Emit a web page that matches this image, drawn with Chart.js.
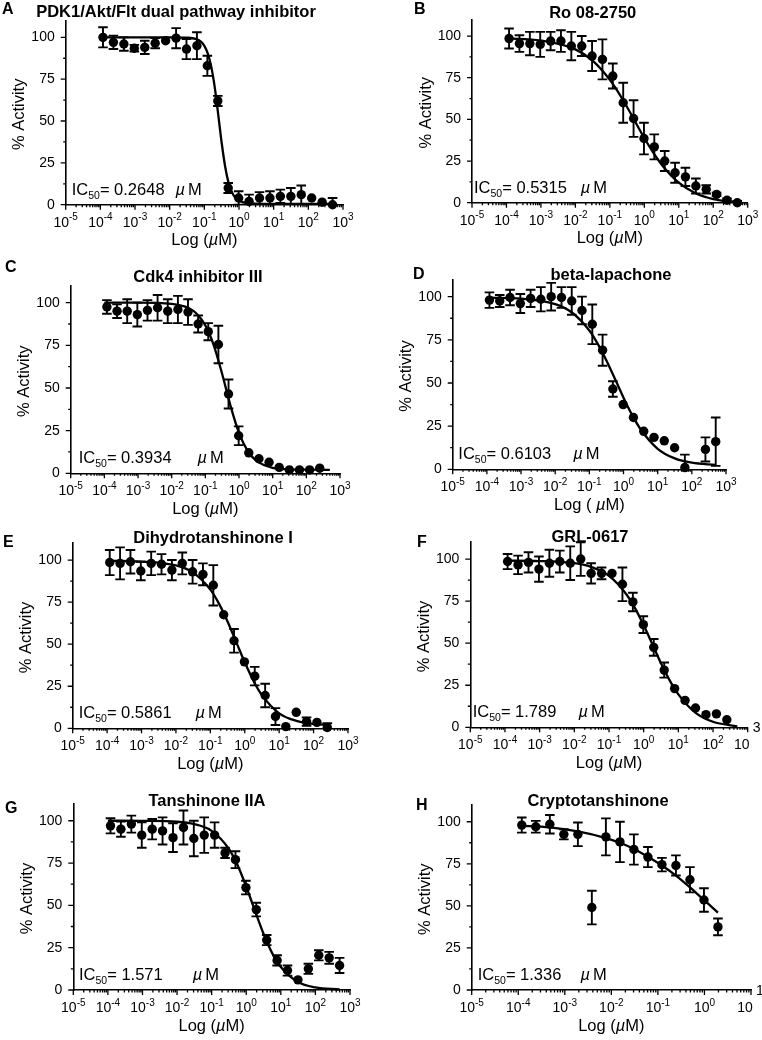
<!DOCTYPE html>
<html>
<head>
<meta charset="utf-8">
<script src="https://cdn.jsdelivr.net/npm/chart.js@4"></script>
<style>
  body { margin: 0; background: #fff; width: 762px; height: 1040px; position: relative; overflow: hidden; }
  canvas { position: absolute; }
</style>
</head>
<body>
<canvas id="cA" width="381" height="260" style="left:0;top:0"></canvas>
<canvas id="cB" width="381" height="260" style="left:381px;top:0"></canvas>
<canvas id="cC" width="381" height="260" style="left:0;top:260px"></canvas>
<canvas id="cD" width="381" height="260" style="left:381px;top:260px"></canvas>
<canvas id="cE" width="381" height="260" style="left:0;top:520px"></canvas>
<canvas id="cF" width="381" height="260" style="left:381px;top:520px"></canvas>
<canvas id="cG" width="381" height="260" style="left:0;top:780px"></canvas>
<canvas id="cH" width="381" height="260" style="left:381px;top:780px"></canvas>
<script>
// ── データ（µM, % Activity）────────────────────────────
const doses = [0.000119, 0.000238, 0.000477, 0.000954, 0.00191, 0.00381, 0.00763, 0.0153,
               0.0305, 0.061, 0.122, 0.244, 0.488, 0.977, 1.95, 3.91, 7.81, 15.6, 31.3,
               62.5, 125, 250, 500];
const yTicks = [0, 25, 50, 75, 100];
const xExpsWide = [-5, -4, -3, -2, -1, 0, 1, 2, 3];
const xExpsNarrow = [-5, -4, -3, -2, -1, 0, 1];

// A
const aMean = [100, 97, 96, 93.5, 94, 96.5, 98, 99.5, 93, 95, 83, 62, 10, 4, 2, 4, 4, 5, 5, 6, 4, 1.5, 0];
const aErr  = [6, 4, 4, 2, 4, 3, 0, 6, 6, 8, 6, 3, 3, 4, 4, 3.5, 4, 4, 5, 5.5, 0, 0, 4];
const aFitX = [0.0001, 0.001, 0.01, 0.0316, 0.0562, 0.0794, 0.1, 0.126, 0.158, 0.2, 0.2648, 0.316, 0.398, 0.501, 0.631, 0.794, 1, 1.58, 3.16, 10, 500];
const aFitY = [100, 100, 100, 99.8, 99.1, 97.4, 94.9, 90.3, 82.5, 70, 50, 37, 22.8, 12.9, 7.3, 4.0, 2.3, 1.0, 0.6, 0.5, 0.5];
// B
const bMean = [98.5, 95.5, 95.5, 95, 97, 97, 94, 94, 88, 86, 76, 60, 50.5, 38.5, 33.5, 25, 18, 15.5, 10, 8, 5, 1.5, 0];
const bErr  = [6, 5, 7, 7.5, 5.5, 6.5, 8.5, 6, 9, 12, 7.5, 12, 11, 9.5, 7.5, 6, 6, 5.5, 4.5, 2.5, 1, 1, 1];
const bFitX = [0.0001, 0.001, 0.01, 0.0316, 0.1, 0.178, 0.316, 0.5315, 1, 1.78, 3.16, 10, 31.6, 100, 500];
const bFitY = [98.6, 97.3, 92.0, 85.2, 73.7, 66.1, 57.4, 49, 38.8, 30.3, 22.9, 12, 5.5, 2.2, 0.2];
// C
const cMean = [97.5, 95, 95, 93, 95.5, 97, 95, 96, 94.5, 87.5, 83, 75.5, 46.5, 22, 12, 8.5, 6.5, 3.5, 2, 2, 2, 3];
const cErr  = [4, 4, 7, 7, 6, 7.5, 7, 8, 7.5, 5, 5, 11, 8.5, 5.5, 0, 0, 0, 0, 0, 0, 0, 0];
const cFitX = [0.0001, 0.001, 0.01, 0.0316, 0.0562, 0.1, 0.178, 0.316, 0.562, 1, 1.78, 3.16, 10, 31.6, 100, 500];
const cFitY = [100, 100, 99.3, 96.9, 93.4, 86.7, 75, 58.2, 39.4, 23.7, 13.3, 7.6, 3.2, 2.3, 2.1, 2];
// D
const dMean = [98, 97.5, 99.5, 96, 99, 98.5, 100, 99.5, 97.5, 92, 84, 69, 46.5, 37.5, 30, 22, 18.5, 16.5, 12.5, 1, null, 11.5, 16];
const dErr  = [4.5, 3.5, 4.5, 5.5, 5, 7, 8, 6, 8, 8, 11.5, 9, 4.5, 0, 0, 0, 0, 0, 0, 7.5, 0, 7, 14];
const dFitX = [0.0001, 0.001, 0.01, 0.0316, 0.1, 0.178, 0.316, 0.61, 1, 1.78, 3.16, 10, 31.6, 100, 500];
const dFitY = [99.4, 98.9, 95.7, 90.7, 80.4, 72.5, 63, 50.8, 41.5, 31.5, 23.2, 11.9, 6.3, 3.8, 2.5];
// E
const eMean = [98.5, 98, 99, 93.5, 98, 97.5, 94, 98, 93, 91.5, 85, 67.5, 52, 39.5, 31, 19.5, 7, 1, 9.5, 4, 3.5, 0.5];
const eErr  = [7.5, 9.5, 7, 5.5, 7, 6, 6, 6.5, 7, 6.5, 12, 0, 7, 0, 5.5, 7, 5, 0, 0, 2.5, 0, 2.5];
const eFitX = [0.0001, 0.001, 0.01, 0.0316, 0.1, 0.178, 0.316, 0.586, 1, 1.78, 3.16, 10, 31.6, 100, 250];
const eFitY = [99.5, 99.1, 96.8, 92.5, 82.4, 74.1, 63.5, 50.5, 39.2, 28.3, 19.7, 8.9, 4.4, 2.6, 2.0];
// F
const fMean = [98.5, 96.5, 98, 94, 97.5, 98.5, 97.5, 100, 91.5, 91.5, 91.5, 85, 74.5, 61, 47.5, 34, 23, 16, 11.5, 7.5, 8, 4.5];
const fErr  = [4.5, 5.5, 6, 7.5, 8, 6.5, 10, 10, 6, 3.5, 0, 10, 5.5, 5, 5, 4.5, 0, 0, 0, 0, 0, 0];
const fFitX = [0.0001, 0.001, 0.01, 0.0316, 0.1, 0.316, 0.562, 1, 1.789, 3.16, 5.62, 10, 31.6, 100, 500];
const fFitY = [99, 98.8, 97.5, 95.2, 90, 79.1, 70.8, 60.6, 49.3, 38.1, 27.9, 19.6, 8.6, 3.3, 0.6];
// G
const gMean = [97, 95, 98, 91.5, 95, 94, 90, 96, 89.5, 91.5, 91.5, 81, 77, 60.5, 47.5, 29.5, 17.5, 11.5, 6, 12.5, 20.5, 19, 14.5];
const gErr  = [4.5, 4.5, 5, 7.5, 6, 8, 8.5, 10, 10.5, 10.5, 7.5, 3, 5, 4, 4, 3, 3, 3, 0, 3, 3, 3.5, 4.5];
const gFitX = [0.0001, 0.001, 0.01, 0.0316, 0.1, 0.316, 0.562, 1, 1.571, 3.16, 5.62, 10, 31.6, 100, 500];
const gFitY = [100, 99.9, 99.4, 98, 94, 83.3, 73.7, 61.1, 50, 33.2, 21.8, 13.6, 4.7, 1.5, 0.3];
// H
const hMean = [98, 97, 98.5, 92.5, 92.5, 49, 91, 88, 83.5, 79, 74.5, 74, 65.5, 53.5, 37.5];
const hErr  = [4.5, 3.5, 5.5, 3, 7, 10, 11, 12, 9, 6, 4, 6, 7.5, 7, 5];
const hFitX = [0.0001, 0.000477, 0.0019, 0.0076, 0.0153, 0.0305, 0.061, 0.122, 0.244, 0.488, 0.977, 1.95];
const hFitY = [97.6, 96.6, 94.2, 90.3, 87.5, 83.8, 79.2, 74, 68, 61, 53.5, 46];

// ── パネル設定（位置・文字）──────────────────────────────
const FAM = '"Liberation Sans", Arial, Helvetica, sans-serif';
const panels = [
  { id: "cA", letter: "A", title: "PDK1/Akt/Flt dual pathway inhibitor", ic50: "0.2648",
    x: doses, mean: aMean, err: aErr, fitX: aFitX, fitY: aFitY, exps: xExpsWide, xMax: 1e3,
    box: { left: 65.7, right: 343, top: 20.6, y0: 204.7 }, letterPos: [2, 10], titlePos: [176, 12], icDx: 6, muGap: 11, xLab: "Log (" },
  { id: "cB", letter: "B", title: "Ro 08-2750", ic50: "0.5315",
    x: doses, mean: bMean, err: bErr, fitX: bFitX, fitY: bFitY, exps: xExpsWide, xMax: 1e3,
    box: { left: 91, right: 366.7, top: 18.2, y0: 202.7 }, letterPos: [33, 10], titlePos: [211.7, 13], icDx: 2, muGap: 14, xLab: "Log (" },
  { id: "cC", letter: "C", title: "Cdk4 inhibitor III", ic50: "0.3934",
    x: doses.slice(0, 22), mean: cMean, err: cErr, fitX: cFitX, fitY: cFitY, exps: xExpsWide, xMax: 1e3,
    box: { left: 70.7, right: 340, top: 25.6, y0: 213.3 }, letterPos: [5, 8], titlePos: [198, 17], icDx: 8, muGap: 26, xLab: "Log (" },
  { id: "cD", letter: "D", title: "beta-lapachone", ic50: "0.6103",
    x: doses, mean: dMean, err: dErr, fitX: dFitX, fitY: dFitY, exps: xExpsWide, xMax: 1e3,
    box: { left: 71.7, right: 345, top: 19.4, y0: 209.3 }, letterPos: [32, 15], titlePos: [230, 15], icDx: 5.6, muGap: 22, xLab: "Log ( " },
  { id: "cE", letter: "E", title: "Dihydrotanshinone I", ic50: "0.5861",
    x: doses.slice(0, 22), mean: eMean, err: eErr, fitX: eFitX, fitY: eFitY, exps: xExpsWide, xMax: 1e3,
    box: { left: 72.7, right: 348, top: 23.2, y0: 208.3 }, letterPos: [3, 23], titlePos: [213, 18], icDx: 6, muGap: 24, xLab: "Log (" },
  { id: "cF", letter: "F", title: "GRL-0617", ic50: "1.789",
    x: doses.slice(0, 22), mean: fMean, err: fErr, fitX: fFitX, fitY: fFitY, exps: xExpsWide, xMax: 1e3,
    box: { left: 89.3, right: 366.7, top: 22.2, y0: 207.3 }, letterPos: [36, 23], titlePos: [209, 17], icDx: 2.4, muGap: 22, xLab: "Log (", splitLast: true },
  { id: "cG", letter: "G", title: "Tanshinone IIA", ic50: "1.571",
    x: doses, mean: gMean, err: gErr, fitX: gFitX, fitY: gFitY, exps: xExpsWide, xMax: 1e3,
    box: { left: 73.3, right: 350, top: 23.8, y0: 210 }, letterPos: [5, 29], titlePos: [207, 21], icDx: 5.7, muGap: 30, xLab: "Log (" },
  { id: "cH", letter: "H", title: "Cryptotanshinone", ic50: "1.336",
    x: doses.slice(0, 15), mean: hMean, err: hErr, fitX: hFitX, fitY: hFitY, exps: xExpsNarrow, xMax: 1e1,
    box: { left: 90.7, right: 370, top: 24.9, y0: 210 }, letterPos: [35, 26], titlePos: [217, 21], icDx: 6, muGap: 19, xLab: "Log (", splitLast: true }
];

Chart.defaults.font.family = FAM;
Chart.defaults.color = "#000";

// ── 誤差棒・目盛・文字を描くプラグイン ─────────────────────
function makeExtras(p) {
  return {
    id: "extras" + p.letter,
    afterDatasetsDraw(chart) {
      const ctx = chart.ctx, xs = chart.scales.x, ys = chart.scales.y, a = chart.chartArea;
      ctx.save();
      ctx.beginPath();
      ctx.rect(a.left - 10, 0, a.right - a.left + 20, a.bottom);
      ctx.clip();
      ctx.strokeStyle = "#000";
      ctx.lineWidth = 1.9;
      p.x.forEach(function (d, i) {
        const m = p.mean[i], e = p.err[i];
        if (m == null || !e) return;
        const x = xs.getPixelForValue(d);
        const yt = ys.getPixelForValue(m + e), yb = ys.getPixelForValue(m - e);
        ctx.beginPath();
        ctx.moveTo(x, yt); ctx.lineTo(x, yb);
        ctx.moveTo(x - 4.8, yt); ctx.lineTo(x + 4.8, yt);
        ctx.moveTo(x - 4.8, yb); ctx.lineTo(x + 4.8, yb);
        ctx.stroke();
      });
      ctx.restore();
    },
    afterDraw(chart) {
      const ctx = chart.ctx, xs = chart.scales.x, ys = chart.scales.y, a = chart.chartArea;
      const y0 = a.bottom, xl = a.left;
      ctx.save();
      ctx.strokeStyle = "#000";
      ctx.fillStyle = "#000";
      ctx.lineWidth = 1.3;

      // x 目盛（主・副）
      ctx.beginPath();
      p.exps.forEach(function (e, k) {
        const base = Math.pow(10, e);
        const xp = xs.getPixelForValue(base);
        ctx.moveTo(xp, y0); ctx.lineTo(xp, y0 + 5);
        if (k < p.exps.length - 1) {
          for (let m = 2; m <= 9; m++) {
            const xm = xs.getPixelForValue(base * m);
            ctx.moveTo(xm, y0); ctx.lineTo(xm, y0 + 2.5);
          }
        }
      });
      // y 目盛（主・副）
      yTicks.forEach(function (v) {
        const yp = ys.getPixelForValue(v);
        ctx.moveTo(xl, yp); ctx.lineTo(xl - 5, yp);
        if (v < 100) {
          const ym = ys.getPixelForValue(v + 12.5);
          ctx.moveTo(xl, ym); ctx.lineTo(xl - 2.5, ym);
        }
      });
      ctx.stroke();

      // x 目盛ラベル 10^n
      ctx.textBaseline = "alphabetic";
      ctx.textAlign = "left";
      p.exps.forEach(function (e, k) {
        const xp = xs.getPixelForValue(Math.pow(10, e));
        const ex = String(e);
        ctx.font = "14px " + FAM;
        const wb = ctx.measureText("10").width;
        ctx.font = "10px " + FAM;
        const we = ctx.measureText(ex).width;
        if (p.splitLast && k === p.exps.length - 1) {
          ctx.font = "14px " + FAM;
          ctx.fillText("10", xp - 6 - wb / 2, y0 + 22);
          ctx.fillText(ex, xp + 5, y0 + 5);
          return;
        }
        const x0 = xp - (wb + we) / 2;
        ctx.font = "14px " + FAM;
        ctx.fillText("10", x0, y0 + 22);
        ctx.font = "10px " + FAM;
        ctx.fillText(ex, x0 + wb, y0 + 15.5);
      });

      // 軸タイトル
      ctx.font = "16.5px " + FAM;
      ctx.textAlign = "center";
      ctx.textBaseline = "middle";
      ctx.save();
      ctx.translate(xl - 46, ys.getPixelForValue(54));
      ctx.rotate(-Math.PI / 2);
      ctx.fillText("% Activity", 0, 0);
      ctx.restore();

      const parts = [[p.xLab, "16.5px "], ["µ", "italic 16.5px "], ["M)", "16.5px "]];
      let total = 0;
      parts.forEach(function (pt) { ctx.font = pt[1] + FAM; total += ctx.measureText(pt[0]).width; });
      let cx = (a.left + a.right) / 2 - total / 2;
      ctx.textAlign = "left";
      parts.forEach(function (pt) {
        ctx.font = pt[1] + FAM;
        ctx.fillText(pt[0], cx, y0 + 36);
        cx += ctx.measureText(pt[0]).width;
      });

      // IC50 表示
      ctx.textBaseline = "alphabetic";
      let ix = xl + p.icDx;
      const iy = y0 - 10;
      ctx.font = "16.5px " + FAM;
      ctx.fillText("IC", ix, iy);
      ix += ctx.measureText("IC").width;
      ctx.font = "10.5px " + FAM;
      ctx.fillText("50", ix, iy + 4);
      ix += ctx.measureText("50").width;
      ctx.font = "16.5px " + FAM;
      const val = "= " + p.ic50;
      ctx.fillText(val, ix, iy);
      ix += ctx.measureText(val).width + p.muGap;
      ctx.font = "italic 16.5px " + FAM;
      ctx.fillText("µ", ix, iy);
      ix += ctx.measureText("µ").width + 3;
      ctx.font = "16.5px " + FAM;
      ctx.fillText("M", ix, iy);

      // タイトルとパネル記号
      ctx.textBaseline = "middle";
      ctx.font = "bold 16.5px " + FAM;
      ctx.textAlign = "center";
      ctx.fillText(p.title, p.titlePos[0], p.titlePos[1]);
      ctx.font = "bold 16px " + FAM;
      ctx.textAlign = "left";
      ctx.fillText(p.letter, p.letterPos[0], p.letterPos[1]);
      ctx.restore();
    }
  };
}

// ── グラフ生成 ─────────────────────────────────────────
panels.forEach(function (p) {
  const pts = [];
  p.x.forEach(function (d, i) { if (p.mean[i] != null) pts.push({ x: d, y: p.mean[i] }); });
  const fit = p.fitX.map(function (d, i) { return { x: d, y: p.fitY[i] }; });

  new Chart(document.getElementById(p.id), {
    type: "scatter",
    data: {
      datasets: [
        { data: pts, pointRadius: 4.7, pointBackgroundColor: "#000", pointBorderWidth: 0, showLine: false, clip: false },
        { data: fit, showLine: true, borderColor: "#000", borderWidth: 2.3, pointRadius: 0,
          cubicInterpolationMode: "monotone", clip: false }
      ]
    },
    options: {
      responsive: false,
      animation: false,
      events: [],
      layout: { padding: { top: p.box.top, right: 381 - p.box.right, left: 0, bottom: 0 } },
      plugins: { legend: { display: false }, tooltip: { enabled: false } },
      scales: {
        x: {
          type: "logarithmic", min: 1e-5, max: p.xMax,
          grid: { display: false, drawTicks: false },
          border: { color: "#000", width: 1.6 },
          ticks: { display: false },
          afterFit: function (s) { s.height = 260 - p.box.y0; }
        },
        y: {
          type: "linear", min: 0, max: 110,
          grid: { display: false, drawTicks: false },
          border: { color: "#000", width: 1.6 },
          ticks: { color: "#000", font: { size: 14 }, padding: 11 },
          afterBuildTicks: function (s) { s.ticks = yTicks.map(function (v) { return { value: v }; }); },
          afterFit: function (s) { s.width = p.box.left; }
        }
      }
    },
    plugins: [makeExtras(p)]
  });
});
</script>
</body>
</html>
